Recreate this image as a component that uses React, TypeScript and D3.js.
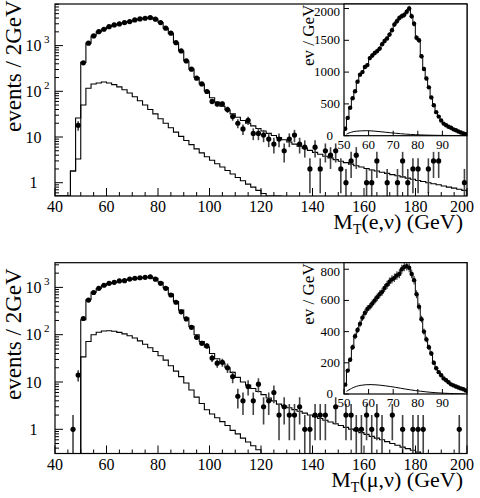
import React from 'react';
import * as d3 from 'd3';

// main histograms: 2 GeV bins from 40 to 200 (index i -> [40+2i, 42+2i])
const binLo = 40;
const binW = 2;

// electron channel, events / 2 GeV
const dataE = [0, 0, 0, 0, 18, 420, 1130, 1630, 2020, 2280, 2600, 2840, 2980, 3190, 3350, 3650, 3840, 3970, 4100, 3780,
  3190, 2400, 1870, 1160, 765, 463, 305, 194, 145, 99, 60, 53, 53, 40, 28, 20, 15, 23, 12, 12,
  11, 9, 7, 9, 5, 9, 11, 7, 6, 2, 6, 2, 5, 4, 5, 2, 1, 3, 4, 0,
  1, 1, 3, 0, 1, 0, 1, 3, 1, 2, 2, 0, 2, 3, 3, 0, 0, 0, 0, 1];
const mcE = [0, 0, 0, 1.8, 26, 430, 1130, 1620, 2000, 2270, 2580, 2820, 2970, 3170, 3340, 3620, 3820, 3960, 4150, 3800,
  3200, 2400, 1850, 1150, 760, 460, 305, 200, 145, 100, 72, 58, 47, 39, 32, 27, 23, 20, 17.5, 15.3,
  13.5, 12, 10.8, 9.7, 8.7, 7.8, 7.0, 6.3, 5.7, 5.1, 4.6, 4.2, 3.8, 3.5, 3.2, 2.95, 2.75, 2.55, 2.35, 2.2,
  2.05, 1.9, 1.8, 1.7, 1.6, 1.5, 1.42, 1.34, 1.26, 1.19, 1.12, 1.06, 1.0, 0.95, 0.9, 0.85, 0.8, 0.76, 0.72, 0.68];
const bkgE = [0, 0, 0, 1.8, 3.3, 50, 117, 145, 152, 160, 152, 140, 125, 108, 92, 76, 62, 50, 40, 32,
  25, 20, 16, 12.8, 10.3, 8.4, 6.8, 5.5, 4.5, 3.7, 3.1, 2.6, 2.2, 1.85, 1.55, 1.3, 1.1, 0.93, 0.8, 0.68,
  0.58, 0.5, 0.43, 0.37];

// muon channel, events / 2 GeV
const dataMu = [0, 0, 0, 1, 14, 220, 540, 780, 955, 1110, 1220, 1280, 1370, 1390, 1500, 1560, 1600, 1630, 1680, 1490,
  1220, 955, 690, 485, 305, 215, 143, 88, 66, 58, 32, 25, 26, 20, 13, 5, 4, 8, 4, 9,
  3, 4, 6, 2, 3, 2, 2, 3, 1, 1, 2, 2, 2, 0, 3, 0, 2, 2, 1, 1,
  2, 1, 2, 1, 0, 2, 0, 1, 0, 1, 1, 1, 0, 0, 0, 0, 0, 0, 1, 0];
const mcMu = [0, 0, 0, 0, 0, 207, 550, 790, 950, 1090, 1200, 1270, 1350, 1400, 1480, 1530, 1580, 1620, 1660, 1550,
  1280, 990, 720, 500, 330, 225, 150, 100, 72, 55, 40, 31, 25, 20, 16, 12.5, 10, 8.6, 7.3, 6.3,
  5.4, 4.6, 4.0, 3.4, 3.1, 2.85, 2.61, 2.4, 2.2, 2.01, 1.85, 1.69, 1.55, 1.43, 1.31, 1.2, 1.1, 1.01, 0.93, 0.85,
  0.78, 0.71, 0.65, 0.6, 0.55, 0.5, 0.46, 0.42, 0.39, 0.36, 0.33, 0.3];
const bkgMu = [0, 0, 0, 0, 0, 34, 72, 100, 113, 120, 121, 118, 112, 104, 95, 85, 74, 63, 53, 44,
  36, 29, 22, 17, 13, 9.5, 6.8, 4.8, 3.5, 2.6, 2.1, 1.75, 1.45, 1.2, 0.95, 0.8, 0.65, 0.54, 0.45, 0.37, 0.3];

// insets: ev / GeV, 1 GeV bins from 50 to 100
const insLo = 50;
const insetE = [110, 280, 440, 590, 700, 850, 960, 1000, 1080, 1110, 1220, 1260, 1300, 1330, 1370, 1440, 1490, 1530, 1590, 1660,
  1750, 1800, 1850, 1880, 1900, 1950, 2000, 1880, 1760, 1540, 1500, 1250, 1050, 900, 760, 600, 480, 370, 300, 240,
  190, 165, 140, 125, 100, 85, 65, 50, 35, 25];
const insetMu = [60, 150, 220, 300, 370, 410, 450, 490, 520, 545, 560, 580, 600, 620, 640, 655, 680, 700, 720, 735,
  745, 760, 770, 800, 815, 820, 810, 770, 730, 640, 560, 480, 400, 350, 300, 260, 200, 165, 140, 120,
  100, 88, 75, 62, 55, 48, 42, 36, 30, 22];

const xTicks = d3.range(40, 201, 20);
const insXTicks = [50, 60, 70, 80, 90];

const FONT = "'Liberation Serif', 'Times New Roman', serif";
const L = 55;
const R = 467;
const IL = 344;

const x = d3.scaleLinear().domain([40, 200]).range([L, R]);
const xi = d3.scaleLinear().domain([50, 100]).range([IL, R]);

function stepPath(vals: number[], lo: number, w: number, xs: (v: number) => number, ys: (v: number) => number, floor: number) {
  let d = `M${xs(lo)},${floor}`;
  vals.forEach((v, i) => {
    const yy = v > 0 ? Math.min(floor, ys(v)) : floor;
    d += `L${xs(lo + i * w)},${yy}L${xs(lo + (i + 1) * w)},${yy}`;
  });
  d += `L${xs(lo + vals.length * w)},${floor}`;
  return d;
}

type PanelProps = {
  id: string;
  top: number;
  bottom: number;
  yMin: number;
  yMax: number;
  data: number[];
  mc: number[];
  bkg: number[];
  ins: number[];
  insBottom: number;
  insMax: number;
  insTicks: number[];
  lepton: string;
  yTitleStart: number;
};

function Panel(p: PanelProps) {
  const y = d3.scaleLog().domain([p.yMin, p.yMax]).range([p.bottom, p.top]);
  const yi = d3.scaleLinear().domain([0, p.insMax]).range([p.insBottom, p.top]);

  const minor: number[] = [];
  for (let e = -1; e <= 3; e++) {
    for (let k = 2; k <= 9; k++) {
      const v = k * Math.pow(10, e);
      if (v > p.yMin && v < p.yMax) minor.push(v);
    }
  }
  const decades = [1, 10, 100, 1000];
  const xMinor = d3.range(40, 201, 5).filter(v => v % 20 !== 0);

  const pts = p.data.map((v, i) => ({ c: binLo + binW * i + binW / 2, v })).filter(d => d.v > 0);
  const insPts = p.ins.map((v, i) => ({ c: insLo + i + 0.5, v }));
  const bkgCurve = p.bkg
    .map((v, i) => ({ c: binLo + binW * i + binW / 2, v: v / binW }))
    .filter(d => d.c > 50 && d.c < 100);
  const line = d3.line<{ c: number; v: number }>().x(d => xi(d.c)).y(d => yi(d.v)).curve(d3.curveBasis);

  return (
    <g style={{ fontFamily: FONT }}>
      <defs>
        <clipPath id={`clip-${p.id}`}>
          <rect x={L} y={p.top} width={R - L} height={p.bottom - p.top} />
        </clipPath>
        <clipPath id={`iclip-${p.id}`}>
          <rect x={IL} y={p.top} width={R - IL} height={p.insBottom - p.top} />
        </clipPath>
      </defs>

      <g clipPath={`url(#clip-${p.id})`}>
        <path d={stepPath(p.bkg, binLo, binW, x, y, p.bottom)} fill="none" stroke="#000" strokeWidth={1.1} />
        <path d={stepPath(p.mc, binLo, binW, x, y, p.bottom)} fill="none" stroke="#000" strokeWidth={1.1} />
        {pts.map((d, i) => {
          const e = Math.sqrt(d.v);
          const lo = d.v - e > 0 ? y(d.v - e) : p.bottom;
          return (
            <g key={i}>
              <line x1={x(d.c)} x2={x(d.c)} y1={y(d.v + e)} y2={Math.min(lo, p.bottom)} stroke="#444" strokeWidth={1.6} />
              <circle cx={x(d.c)} cy={y(d.v)} r={2.6} fill="#000" />
            </g>
          );
        })}
      </g>

      {/* main frame and ticks */}
      <rect x={L} y={p.top} width={R - L} height={p.bottom - p.top} fill="none" stroke="#000" strokeWidth={1.2} />
      {xTicks.map(t => (
        <g key={t}>
          <line x1={x(t)} x2={x(t)} y1={p.bottom} y2={p.bottom - 8} stroke="#000" />
          <text x={t === 200 ? x(t) - 5 : x(t)} y={p.bottom + 16} textAnchor="middle" fontSize={16}>{t}</text>
        </g>
      ))}
      {xMinor.map(t => (
        <line key={t} x1={x(t)} x2={x(t)} y1={p.bottom} y2={p.bottom - 4} stroke="#000" />
      ))}
      {minor.map(v => (
        <line key={v} x1={L} x2={L + 4} y1={y(v)} y2={y(v)} stroke="#000" />
      ))}
      {decades.map((v, i) => (
        <g key={v}>
          <line x1={L} x2={L + 8} y1={y(v)} y2={y(v)} stroke="#000" />
          <text x={33.5} y={y(v) + 5.5} textAnchor="middle" fontSize={16}>{i === 0 ? '1' : '10'}</text>
          {i >= 2 && (
            <text x={44} y={y(v) - 2.5} fontSize={11}>{i}</text>
          )}
        </g>
      ))}
      <text transform={`translate(21,${p.yTitleStart}) rotate(-90)`} fontSize={23}>events / 2GeV</text>
      <text x={R - 4} y={p.bottom + 33} textAnchor="end" fontSize={22}>
        M<tspan fontSize={14} dy={5}>T</tspan><tspan dy={-5}>({p.lepton},ν) (GeV)</tspan>
      </text>

      {/* inset */}
      <rect x={IL} y={p.top} width={R - IL} height={p.insBottom - p.top} fill="#fff" />
      <g clipPath={`url(#iclip-${p.id})`}>
        <path d={line(bkgCurve) ?? ''} fill="none" stroke="#000" strokeWidth={1} />
        <path d={stepPath(p.ins, insLo, 1, xi, yi, p.insBottom)} fill="none" stroke="#000" strokeWidth={1} />
        {insPts.map((d, i) => {
          const e = Math.sqrt(d.v);
          return (
            <g key={i}>
              <line x1={xi(d.c)} x2={xi(d.c)} y1={yi(d.v + e)} y2={yi(Math.max(0, d.v - e))} stroke="#444" strokeWidth={1.2} />
              <circle cx={xi(d.c)} cy={yi(d.v)} r={2.2} fill="#000" />
            </g>
          );
        })}
      </g>
      <rect x={IL} y={p.top} width={R - IL} height={p.insBottom - p.top} fill="none" stroke="#000" strokeWidth={1.2} />
      {insXTicks.map(t => (
        <g key={t}>
          <line x1={xi(t)} x2={xi(t)} y1={p.insBottom} y2={p.insBottom - 5} stroke="#000" />
          <text x={xi(t)} y={p.insBottom + 13} textAnchor="middle" fontSize={13}>{t}</text>
        </g>
      ))}
      {p.insTicks.map((t, i) => (
        <g key={t}>
          <line x1={IL} x2={IL + 5} y1={yi(t)} y2={yi(t)} stroke="#000" />
          <text x={i === 0 ? IL - 11 : IL - 4} y={i === p.insTicks.length - 1 ? yi(t) + 7 : yi(t) + 4} textAnchor="end" fontSize={13}>{t}</text>
        </g>
      ))}
      <text transform={`translate(${IL - 30},${p.top + 62}) rotate(-90)`} fontSize={17}>ev / GeV</text>
    </g>
  );
}

export default function App() {
  return (
    <svg width={480} height={498} style={{ position: 'absolute', left: 0, top: 0, background: '#fff' }}>
      <rect width={480} height={498} fill="#fff" />
      <Panel id="e" top={4} bottom={196} yMin={0.512} yMax={8130} data={dataE} mc={mcE} bkg={bkgE}
        ins={insetE} insBottom={135.7} insMax={2071} insTicks={[0, 500, 1000, 1500, 2000]} lepton="e"
        yTitleStart={132} />
      <Panel id="mu" top={262.7} bottom={453.5} yMin={0.308} yMax={3327} data={dataMu} mc={mcMu} bkg={bkgMu}
        ins={insetMu} insBottom={394} insMax={842} insTicks={[0, 200, 400, 600, 800]} lepton="μ"
        yTitleStart={400} />
    </svg>
  );
}
